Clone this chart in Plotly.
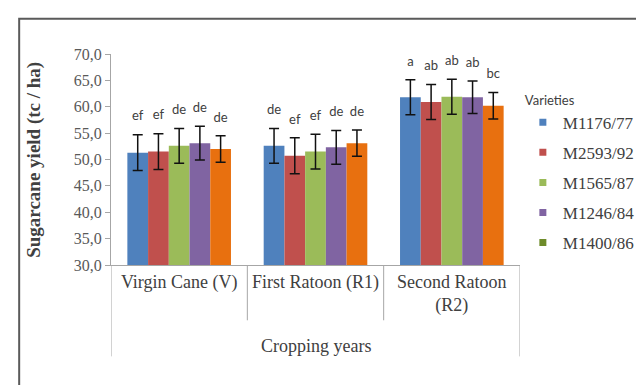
import plotly.graph_objects as go

categories = ["Virgin Cane (V)", "First Ratoon (R1)", "Second Ratoon<br>(R2)"]
varieties = ["M1176/77", "M2593/92", "M1565/87", "M1246/84", "M1400/86"]

yield_m1176 = [51.3, 52.6, 61.8]
yield_m2593 = [51.5, 50.7, 60.9]
yield_m1565 = [52.6, 51.5, 61.9]
yield_m1246 = [53.1, 52.3, 61.8]
yield_m1400 = [52.0, 53.1, 60.2]

err_m1176 = [3.4, 3.3, 3.3]
err_m2593 = [3.4, 3.4, 3.3]
err_m1565 = [3.3, 3.3, 3.3]
err_m1246 = [3.2, 3.2, 3.1]
err_m1400 = [2.5, 2.5, 2.5]

letters_m1176 = ["ef", "de", "a"]
letters_m2593 = ["ef", "ef", "ab"]
letters_m1565 = ["de", "ef", "ab"]
letters_m1246 = ["de", "de", "ab"]
letters_m1400 = ["de", "de", "bc"]

bar_colors = ["#4F81BD", "#C0504D", "#9BBB59", "#8064A2", "#E8700F"]
legend_colors = ["#4F81BD", "#C0504D", "#9BBB59", "#8064A2", "#6E8B2A"]

values = [yield_m1176, yield_m2593, yield_m1565, yield_m1246, yield_m1400]
errors = [err_m1176, err_m2593, err_m1565, err_m1246, err_m1400]
letters = [letters_m1176, letters_m2593, letters_m1565, letters_m1246, letters_m1400]

SERIF = "Liberation Serif"
SANS = "Lato"

fig = go.Figure()
for i, name in enumerate(varieties):
    fig.add_trace(go.Bar(
        x=categories, y=values[i], name=name, showlegend=False,
        marker=dict(color=bar_colors[i], line=dict(width=0)),
        error_y=dict(type="data", array=errors[i], color="#111111", thickness=1.5, width=5),
        offsetgroup=str(i),
    ))
for i, name in enumerate(varieties):
    fig.add_trace(go.Scatter(
        x=categories, y=[v + e for v, e in zip(values[i], errors[i])],
        mode="markers+text", text=letters[i], textposition="top center",
        marker=dict(size=16, opacity=0),
        textfont=dict(family=SANS, size=13, color="#404040"),
        showlegend=False, offsetgroup=str(i), hoverinfo="skip",
    ))
for i, name in enumerate(varieties):
    fig.add_trace(go.Scatter(
        x=[None], y=[None], mode="markers", name=name,
        marker=dict(symbol="square", size=7, color=legend_colors[i]),
        xaxis="x2", yaxis="y2", legendgroup=name,
    ))

# multi-level axis dividers
shapes = []
for xb in [0.5, 1.5]:
    shapes.append(dict(type="line", xref="x", yref="paper", x0=xb, x1=xb, y0=0, y1=-0.262,
                       line=dict(color="#A6A6A6", width=1)))
for xb in [-0.5, 2.5]:
    shapes.append(dict(type="line", xref="x", yref="paper", x0=xb, x1=xb, y0=0, y1=-0.433,
                       line=dict(color="#A6A6A6", width=1)))
# outer frame
shapes.append(dict(type="rect", xref="paper", yref="paper", x0=-0.2245, x1=1.6, y0=1.167, y1=-1.0,
                   line=dict(color="#5A5A5A", width=2), fillcolor="rgba(0,0,0,0)"))

fig.update_layout(
    width=644, height=385,
    margin=dict(l=103, r=109, t=46, b=128),
    paper_bgcolor="white", plot_bgcolor="white",
    separators=", ",
    barmode="group", bargap=0.24, bargroupgap=0,
    scattermode="group", scattergap=0.24,
    xaxis=dict(
        type="category", categoryorder="array", categoryarray=categories,
        range=[-0.5, 2.5],
        showline=True, linecolor="#A6A6A6", linewidth=1, ticks="",
        tickfont=dict(family=SERIF, size=18, color="#404040"),
        showgrid=False, zeroline=False, fixedrange=True,
    ),
    yaxis=dict(
        range=[30, 70], dtick=5, tick0=30, tickformat=".1f",
        showline=True, linecolor="#A6A6A6", linewidth=1,
        ticks="outside", ticklen=5, tickcolor="#A6A6A6",
        tickfont=dict(family=SERIF, size=16, color="#595959"),
        showgrid=False, zeroline=False,
    ),
    xaxis2=dict(overlaying="x", visible=False, range=[0, 1]),
    yaxis2=dict(overlaying="y", visible=False, range=[0, 1]),
    legend=dict(
        x=1.007, xanchor="left", y=0.84, yanchor="top",
        title=dict(text="Varieties", font=dict(family=SANS, size=13, color="#404040")),
        font=dict(family=SERIF, size=17, color="#404040"),
        itemwidth=30, tracegroupgap=5, traceorder="grouped",
        bgcolor="rgba(0,0,0,0)",
    ),
    shapes=shapes,
    annotations=[
        dict(text="<b>Sugarcane yield (tc / ha)</b>", xref="paper", yref="paper",
             x=-0.19, y=0.5, textangle=-90, showarrow=False,
             font=dict(family=SERIF, size=19, color="#404040"), xanchor="center", yanchor="middle"),
        dict(text="Cropping years", xref="paper", yref="paper",
             x=0.5, y=-0.385, showarrow=False,
             font=dict(family=SERIF, size=18, color="#404040"), xanchor="center", yanchor="middle"),
    ],
)

fig.write_html("out.html")
